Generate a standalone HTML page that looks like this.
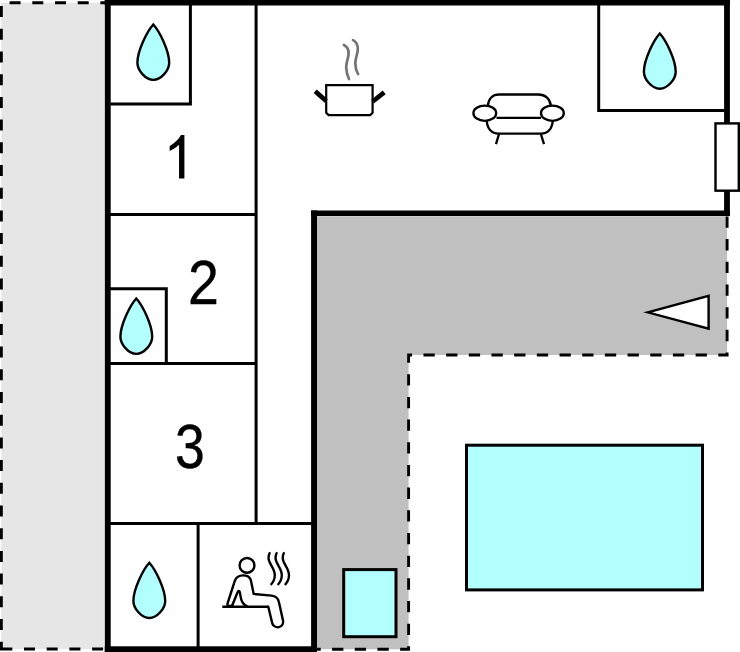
<!DOCTYPE html>
<html>
<head>
<meta charset="utf-8">
<title>Floor plan</title>
<style>
html,body{margin:0;padding:0;background:#fff;}
body{width:740px;height:652px;overflow:hidden;font-family:"Liberation Sans",sans-serif;}
svg{display:block;}
text{font-family:"Liberation Sans",sans-serif;fill:#000;}
</style>
</head>
<body>
<svg width="740" height="652" viewBox="0 0 740 652">
<rect x="0" y="0" width="740" height="652" fill="#ffffff"/>

<!-- left light-grey strip with dashed border -->
<rect x="1.3" y="2.7" width="102.6" height="646.4" fill="#e6e6e6"/>
<path d="M1.3,649.1 H107.7 V2.7 H1.3 Z" fill="none" stroke="#000" stroke-width="3" stroke-dasharray="11 11.7"/>

<!-- terrace (grey) with dashed border -->
<path d="M317,216.2 H727.1 V355 H408.6 V649.2 H317 Z" fill="#c0c0c0"/>
<path d="M727.1,193.75 V355 H408.6 V649.2 H314" fill="none" stroke="#000" stroke-width="2.9" stroke-dasharray="11.3 11.38"/>

<!-- house interior (white) -->
<path d="M107.7,2.6 H727 V213.3 H314 V649 H107.7 Z" fill="#fff"/>

<!-- thin interior walls -->
<g fill="none" stroke="#000" stroke-width="3" stroke-linecap="butt" stroke-linejoin="miter">
  <path d="M107.7,103.9 H190.4 V2.6"/>
  <path d="M256.1,2.6 V523.5"/>
  <path d="M107.7,214.6 H256.1"/>
  <path d="M107.7,288.8 H166.3 V363.5"/>
  <path d="M107.7,363.5 H256.1"/>
  <path d="M107.7,523.5 H314"/>
  <path d="M198.1,523.5 V649"/>
  <path d="M727,110.6 H598.7 V2.6"/>
</g>

<!-- thick outer walls -->
<g fill="#000">
  <rect x="104.8" y="0" width="5.9" height="652"/>
  <rect x="104.8" y="0" width="625.1" height="5.5"/>
  <rect x="724.1" y="0" width="5.8" height="123"/>
  <rect x="724.1" y="190" width="5.8" height="26"/>
  <rect x="311.1" y="210.5" width="418.8" height="5.5"/>
  <rect x="311.1" y="210.5" width="5.9" height="441.5"/>
  <rect x="104.8" y="646.3" width="212.2" height="5.7"/>
</g>

<!-- window on right wall -->
<rect x="715.5" y="123.4" width="23.3" height="67.3" fill="#fff" stroke="#000" stroke-width="2.4"/>

<!-- pool -->
<rect x="466.5" y="445.2" width="236" height="144.7" fill="#b2ffff" stroke="#000" stroke-width="3"/>
<!-- small pool / hot tub -->
<rect x="343.7" y="569.6" width="52.3" height="67.1" fill="#b2ffff" stroke="#000" stroke-width="3"/>

<!-- arrow / entrance triangle -->
<path d="M647.7,312.3 L708.6,295.85 V328.75 Z" fill="#fff" stroke="#000" stroke-width="2.4" stroke-linejoin="miter" stroke-miterlimit="10"/>

<!-- water drops -->
<defs>
  <path id="drop" d="M0,-0.2 C6,6.3 15.9,26 15.9,38 C15.9,45.5 7.8,55.1 0,55.1 C-7.8,55.1 -15.9,45.5 -15.9,38 C-15.9,26 -6,6.3 0,-0.2 Z"/>
</defs>
<g fill="#b2ffff" stroke="#000" stroke-width="2.4" stroke-linejoin="miter" stroke-miterlimit="10">
  <use href="#drop" x="153.3" y="24.75"/>
  <use href="#drop" x="136.3" y="298.75"/>
  <use href="#drop" x="149.3" y="562.95"/>
  <use href="#drop" x="659.8" y="33.7"/>
</g>

<!-- room numbers -->
<path transform="translate(161.8,178.6) scale(0.02962,-0.02962)" d="M763,0 H583 V1147 Q525.8,1085 433,1023 Q340.1,961 266.2,930 V1104 Q399.1,1175 498.5,1276 Q598,1377 647,1472 H763 Z" fill="#000"/>
<g transform="translate(203.45,303.6) scale(0.918,1.03)"><text x="0" y="0" font-size="60.5" text-anchor="middle" stroke="#000" stroke-width="0.35">2</text></g>
<g transform="translate(189.8,467.7) scale(0.886,1.055)"><text x="0" y="0" font-size="60.5" text-anchor="middle" stroke="#000" stroke-width="0.35">3</text></g>

<!-- pot icon -->
<g fill="none" stroke="#000">
  <path d="M326.2,85.05 H372.6 V112.7 L370.2,115.1 H328.6 L326.2,112.7 Z" stroke-width="2.2" fill="#fff"/>
  <path d="M315.2,91.2 L326.2,101" stroke-width="4.7" stroke-linecap="butt"/>
  <path d="M384.2,92.4 L372.7,101.5" stroke-width="4.7" stroke-linecap="butt"/>
  <path d="M343.9,45 C347,46.5 348.8,50 348.6,54 C348.3,59 346,62 346.2,67.5 C346.4,72 347.5,76 349,79" stroke="#747474" stroke-width="2.7" stroke-linecap="round"/>
  <path d="M353,40.1 C356,41.5 357.9,45 357.8,49.5 C357.6,54.5 355.2,58 355.3,63.5 C355.4,67.5 356.5,71.5 358.1,74.1" stroke="#747474" stroke-width="2.7" stroke-linecap="round"/>
</g>

<!-- sofa icon -->
<g fill="none" stroke="#000" stroke-width="2.3">
  <path d="M487.9,105.5 C488.5,98.5 493,94.5 499,94.5 H538.5 C545,94.5 550,98.5 550.8,105.5"/>
  <path d="M496.5,117.8 H541"/>
  <path d="M486.8,120.5 C487,128.4 491.5,133.6 498.5,133.6 H541 C548,133.6 552.5,128.4 552.7,120.5"/>
  <ellipse cx="484.8" cy="113.2" rx="11.4" ry="7.6" fill="#fff"/>
  <ellipse cx="552.4" cy="113.2" rx="11.4" ry="7.6" fill="#fff"/>
  <path d="M498.9,134.4 L496,144.2"/>
  <path d="M541,134.4 L544,144.2"/>
</g>

<!-- sauna icon -->
<g fill="none" stroke="#000" stroke-width="2.4" stroke-linecap="round" stroke-linejoin="round">
  <circle cx="247" cy="565.4" r="7.4"/>
  <path d="M222.3,606.7 H268.3" stroke-linecap="butt"/>
  <path d="M232.3,605.2 C231,606.6 226.8,606.2 227.5,603.6 L234.7,581.2 C236,577 239.5,575.4 243.2,575.4 C247,575.4 249.8,577 250.8,580 L253.7,593.9 L271.5,595.6 C276,596 278.2,598.8 278.9,602 L283,620.5 C284.3,628.3 274.2,629.2 272.3,623.5 L268.3,606.7"/>
  <path d="M232.3,605.2 L237.7,592 C238.2,590.6 239.6,590.6 239.9,592.3 C240.4,596 240.8,598 241.3,599.6 C242.3,602.8 244,604.8 246.8,606"/>
  <path d="M270,552.2 C269,554 268.4,556 268.5,558.1 C268.6,564 274.8,568 274.8,575.3 C274.8,579 273,582.5 270.7,585" stroke-width="2.35" stroke-linecap="butt"/>
  <path d="M277.0,552.2 C276.0,554 275.4,556 275.5,558.1 C275.6,564 281.8,568 281.8,575.3 C281.8,579 280.0,582.5 277.7,585" stroke-width="2.35" stroke-linecap="butt"/>
  <path d="M284.2,552.2 C283.2,554 282.6,556 282.7,558.1 C282.8,564 289.0,568 289.0,575.3 C289.0,579 287.2,582.5 284.9,585" stroke-width="2.35" stroke-linecap="butt"/>
</g>
</svg>
</body>
</html>
